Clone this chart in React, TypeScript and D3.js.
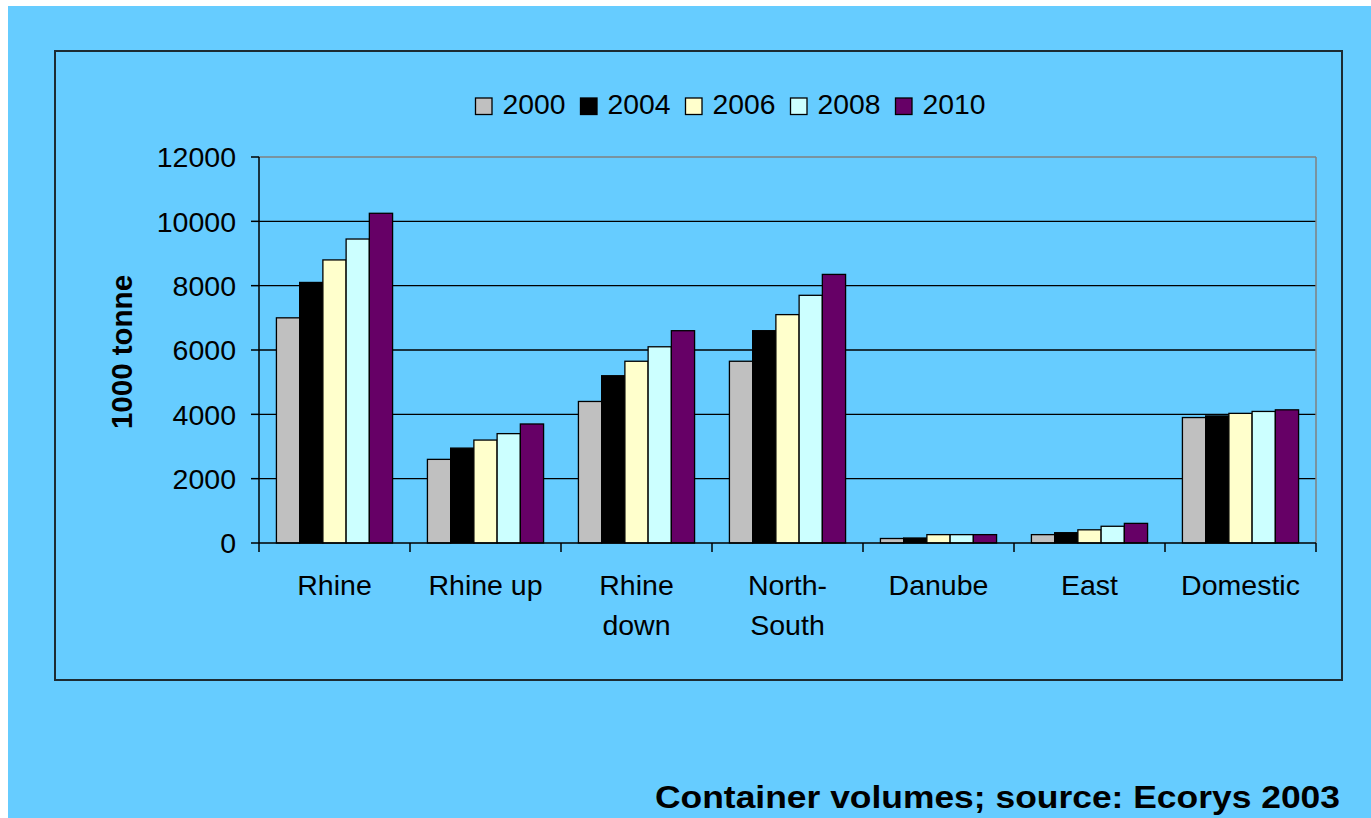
import React from "react";
import * as d3 from "d3";

const categories = ["Rhine", "Rhine up", "Rhine down", "North-South", "Danube", "East", "Domestic"];
const categoryLines = [["Rhine"], ["Rhine up"], ["Rhine", "down"], ["North-", "South"], ["Danube"], ["East"], ["Domestic"]];
const years = ["2000", "2004", "2006", "2008", "2010"];
const seriesColors = ["#C0C0C0", "#000000", "#FFFFCC", "#CCFFFF", "#660066"];

const v2000 = [7000, 2600, 4400, 5650, 140, 260, 3900];
const v2004 = [8100, 2950, 5200, 6600, 155, 320, 3950];
const v2006 = [8800, 3200, 5650, 7100, 260, 410, 4030];
const v2008 = [9450, 3400, 6100, 7700, 260, 520, 4090];
const v2010 = [10250, 3700, 6600, 8350, 260, 610, 4140];
const seriesValues = [v2000, v2004, v2006, v2008, v2010];

const yTicks = [0, 2000, 4000, 6000, 8000, 10000, 12000];
const yTitle = "1000 tonne";
const caption = "Container volumes; source: Ecorys 2003";

const FONT = "'Liberation Sans', Arial, Helvetica, sans-serif";

export default function App() {
  const W = 1371, H = 818;
  const left = 259, right = 1316, top = 157, bottom = 543;
  const x0 = d3.scaleBand<string>().domain(categories).range([left, right]).paddingInner(0).paddingOuter(0);
  const x1 = d3.scaleBand<string>().domain(years).range([0, x0.bandwidth()]).paddingInner(0).paddingOuter(0.75);
  const y = d3.scaleLinear().domain([0, 12000]).range([bottom, top]);

  const legendStep = 105;
  const legendStartX = 475.5;
  const legendBaseline = 114;

  return (
    <svg width={W} height={H} style={{ position: "absolute", left: 0, top: 0 }} fontFamily={FONT}>
      <rect x={0} y={0} width={W} height={H} fill="#ffffff" />
      <rect x={8} y={6} width={W - 8} height={H - 6} fill="#66CCFF" />
      {/* outer chart box */}
      <rect x={55} y={51} width={1287} height={629} fill="none" stroke="#1c2b33" strokeWidth={2} />

      {/* gridlines */}
      {yTicks.filter((t) => t > 0 && t < 12000).map((t) => (
        <line key={"g" + t} x1={left} x2={right} y1={y(t)} y2={y(t)} stroke="#000" strokeWidth={1.3} />
      ))}
      {/* plot area border (top/right) */}
      <line x1={left} x2={right} y1={top} y2={top} stroke="#808080" strokeWidth={1.5} />
      <line x1={right} x2={right} y1={top} y2={bottom} stroke="#808080" strokeWidth={1.5} />

      {/* bars */}
      {categories.map((c, ci) => (
        <g key={c} transform={`translate(${x0(c)},0)`}>
          {years.map((yr, si) => {
            const v = seriesValues[si][ci];
            return (
              <rect
                key={yr}
                x={x1(yr)}
                y={y(v)}
                width={x1.bandwidth()}
                height={y(0) - y(v)}
                fill={seriesColors[si]}
                stroke="#000"
                strokeWidth={1.3}
              />
            );
          })}
        </g>
      ))}

      {/* y axis */}
      <line x1={left} x2={left} y1={top} y2={bottom} stroke="#000" strokeWidth={1.5} />
      {yTicks.map((t) => (
        <g key={"yt" + t}>
          <line x1={left - 8} x2={left} y1={y(t)} y2={y(t)} stroke="#000" strokeWidth={1.5} />
          <text x={236} y={y(t)} dy="0.36em" textAnchor="end" fontSize={28.5} fill="#000">
            {t}
          </text>
        </g>
      ))}
      <text
        transform={`translate(132,352) rotate(-90)`}
        textAnchor="middle"
        fontSize={29.5}
        fontWeight="bold"
        fill="#000"
      >
        {yTitle}
      </text>

      {/* x axis */}
      <line x1={left} x2={right} y1={bottom} y2={bottom} stroke="#000" strokeWidth={1.5} />
      {categories.map((c) => (
        <line key={"xt" + c} x1={x0(c)!} x2={x0(c)!} y1={bottom} y2={bottom + 9} stroke="#000" strokeWidth={1.5} />
      ))}
      <line x1={right} x2={right} y1={bottom} y2={bottom + 9} stroke="#000" strokeWidth={1.5} />
      {categories.map((c, ci) => (
        <text key={"xl" + c} textAnchor="middle" fontSize={28.5} fill="#000">
          {categoryLines[ci].map((ln, li) => (
            <tspan key={li} x={x0(c)! + x0.bandwidth() / 2} y={595 + li * 39.5}>
              {ln}
            </tspan>
          ))}
        </text>
      ))}

      {/* legend */}
      {years.map((yr, i) => {
        const lx = legendStartX + legendStep * i;
        return (
          <g key={"lg" + yr}>
            <rect x={lx} y={98} width={16.5} height={16.5} fill={seriesColors[i]} stroke="#000" strokeWidth={1.3} />
            <text x={lx + 27} y={legendBaseline} fontSize={28.3} fill="#000">
              {yr}
            </text>
          </g>
        );
      })}

      {/* caption */}
      <text
        x={655}
        y={807.5}
        fontSize={31.5}
        fontWeight="bold"
        fill="#000"
        textLength={685}
        lengthAdjust="spacingAndGlyphs"
      >
        {caption}
      </text>
    </svg>
  );
}
